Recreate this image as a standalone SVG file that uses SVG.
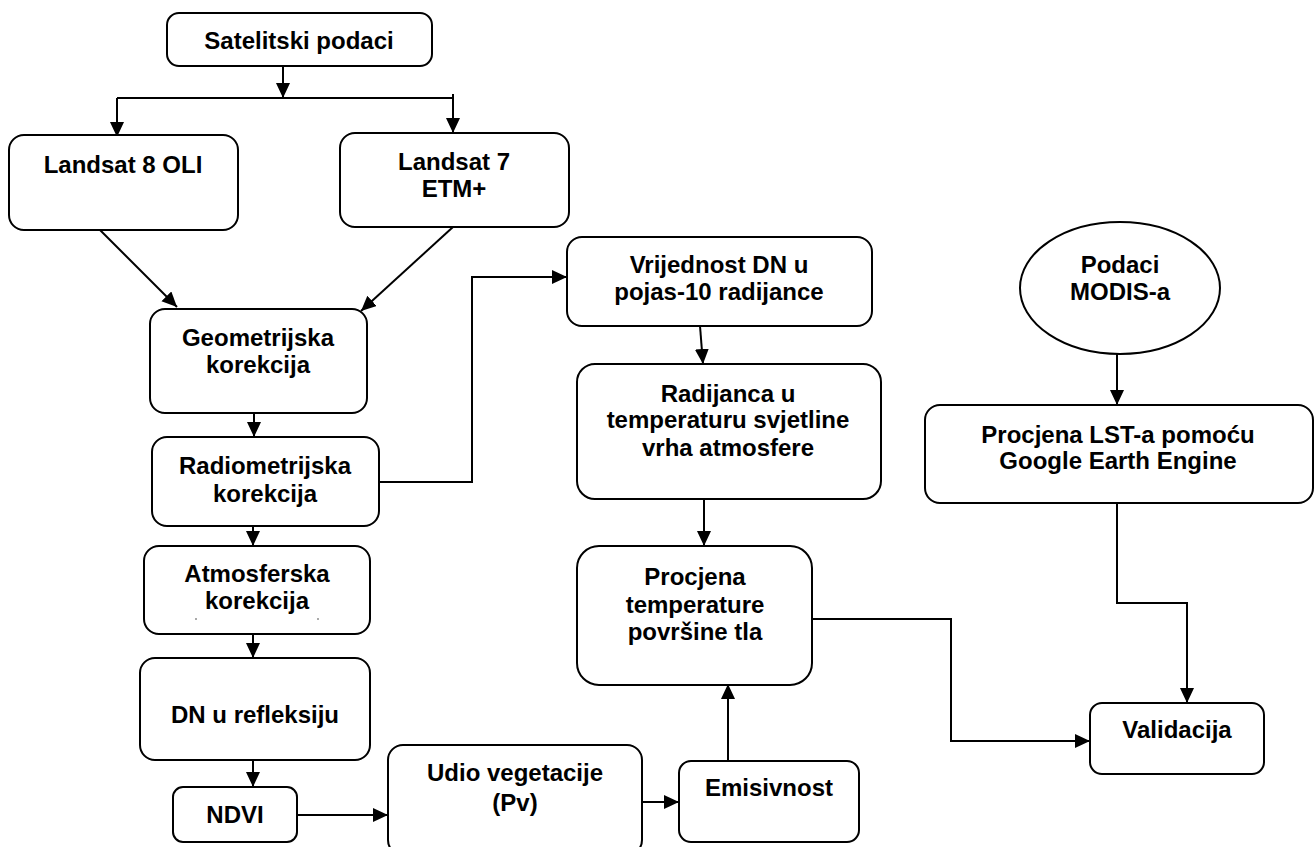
<svg xmlns="http://www.w3.org/2000/svg" width="1315" height="847" viewBox="0 0 1315 847">
<defs>
<marker id="ah" markerUnits="userSpaceOnUse" markerWidth="16" markerHeight="15" refX="15" refY="7" orient="auto">
<path d="M0,0 L15,7 L0,14 z" fill="#000"/>
</marker>
<style>
.box{fill:#fff;stroke:#000;stroke-width:2}
.t{font-family:"Liberation Sans",Arial,sans-serif;font-weight:bold;font-size:24px;text-anchor:middle;fill:#000}
.c{fill:none;stroke:#000;stroke-width:2}
.a{marker-end:url(#ah)}
</style>
</defs>
<rect width="1315" height="847" fill="#fff"/>
<g id="connectors">
<path class="c a" d="M283,66 V98"/>
<path class="c" d="M117,98 H453"/>
<path class="c a" d="M117,98 V137"/>
<path class="c a" d="M453,94 V133"/>
<path class="c a" d="M97,227 L177,307"/>
<path class="c a" d="M453,227 L361,311"/>
<path class="c a" d="M254,413 V437"/>
<path class="c a" d="M379,482 H472 V277 H567"/>
<path class="c a" d="M253,526 V546"/>
<path class="c a" d="M253,634 V658"/>
<path class="c a" d="M253,760 V787"/>
<path class="c a" d="M297,815 H388"/>
<path class="c a" d="M642,802 H679"/>
<path class="c a" d="M728,761 V684"/>
<path class="c a" d="M700,326 L703,364"/>
<path class="c a" d="M704,499 V546"/>
<path class="c a" d="M812,619 H951 V741 H1090"/>
<path class="c a" d="M1117,354 V405"/>
<path class="c a" d="M1117,503 V603 H1187 V703"/>
</g>
<g id="sat"><rect class="box" x="167" y="13" width="265" height="53" rx="12"/><text class="t" x="299" y="49">Satelitski podaci</text></g>
<g id="l8"><rect class="box" x="9" y="135" width="229" height="95" rx="15"/><text class="t" x="123" y="173">Landsat 8 OLI</text></g>
<g id="l7"><rect class="box" x="340" y="133" width="229" height="94" rx="15"/><text class="t" x="454" y="170">Landsat 7</text><text class="t" x="454" y="197">ETM+</text></g>
<g id="geo"><rect class="box" x="150" y="309" width="217" height="104" rx="15"/><text class="t" x="258" y="346">Geometrijska</text><text class="t" x="258" y="373">korekcija</text></g>
<g id="radio"><rect class="box" x="152" y="437" width="227" height="89" rx="15"/><text class="t" x="265" y="474">Radiometrijska</text><text class="t" x="265" y="502">korekcija</text></g>
<g id="atmos"><rect class="box" x="144" y="546" width="226" height="88" rx="15"/><text class="t" x="257" y="582">Atmosferska</text><text class="t" x="257" y="609">korekcija</text><path d="M195,619 h2 M317,619 h2" stroke="#555" stroke-width="1"/></g>
<g id="dn"><rect class="box" x="140" y="658" width="230" height="102" rx="15"/><text class="t" x="255" y="723">DN u refleksiju</text></g>
<g id="ndvi"><rect class="box" x="173" y="787" width="124" height="55" rx="10"/><text class="t" x="235" y="823">NDVI</text></g>
<g id="udio"><rect class="box" x="388" y="745" width="254" height="110" rx="15"/><text class="t" x="515" y="781">Udio vegetacije</text><text class="t" x="515" y="811">(Pv)</text></g>
<g id="emis"><rect class="box" x="679" y="761" width="180" height="81" rx="12"/><text class="t" x="769" y="796">Emisivnost</text></g>
<g id="vrij"><rect class="box" x="567" y="237" width="305" height="89" rx="15"/><text class="t" x="719" y="273">Vrijednost DN u</text><text class="t" x="719" y="300">pojas-10 radijance</text></g>
<g id="radij"><rect class="box" x="577" y="364" width="304" height="135" rx="18"/><text class="t" x="728" y="402">Radijanca u</text><text class="t" x="728" y="428">temperaturu svjetline</text><text class="t" x="728" y="456">vrha atmosfere</text></g>
<g id="proc"><rect class="box" x="577" y="546" width="235" height="139" rx="22"/><text class="t" x="695" y="585">Procjena</text><text class="t" x="695" y="613">temperature</text><text class="t" x="695" y="640">površine tla</text></g>
<g id="modis"><ellipse class="box" cx="1120" cy="288" rx="100" ry="66"/><text class="t" x="1120" y="273">Podaci</text><text class="t" x="1120" y="300">MODIS-a</text></g>
<g id="lst"><rect class="box" x="925" y="405" width="388" height="98" rx="15"/><text class="t" x="1118" y="443">Procjena LST-a pomoću</text><text class="t" x="1118" y="469">Google Earth Engine</text></g>
<g id="valid"><rect class="box" x="1090" y="703" width="174" height="71" rx="12"/><text class="t" x="1177" y="738">Validacija</text></g>
</svg>
